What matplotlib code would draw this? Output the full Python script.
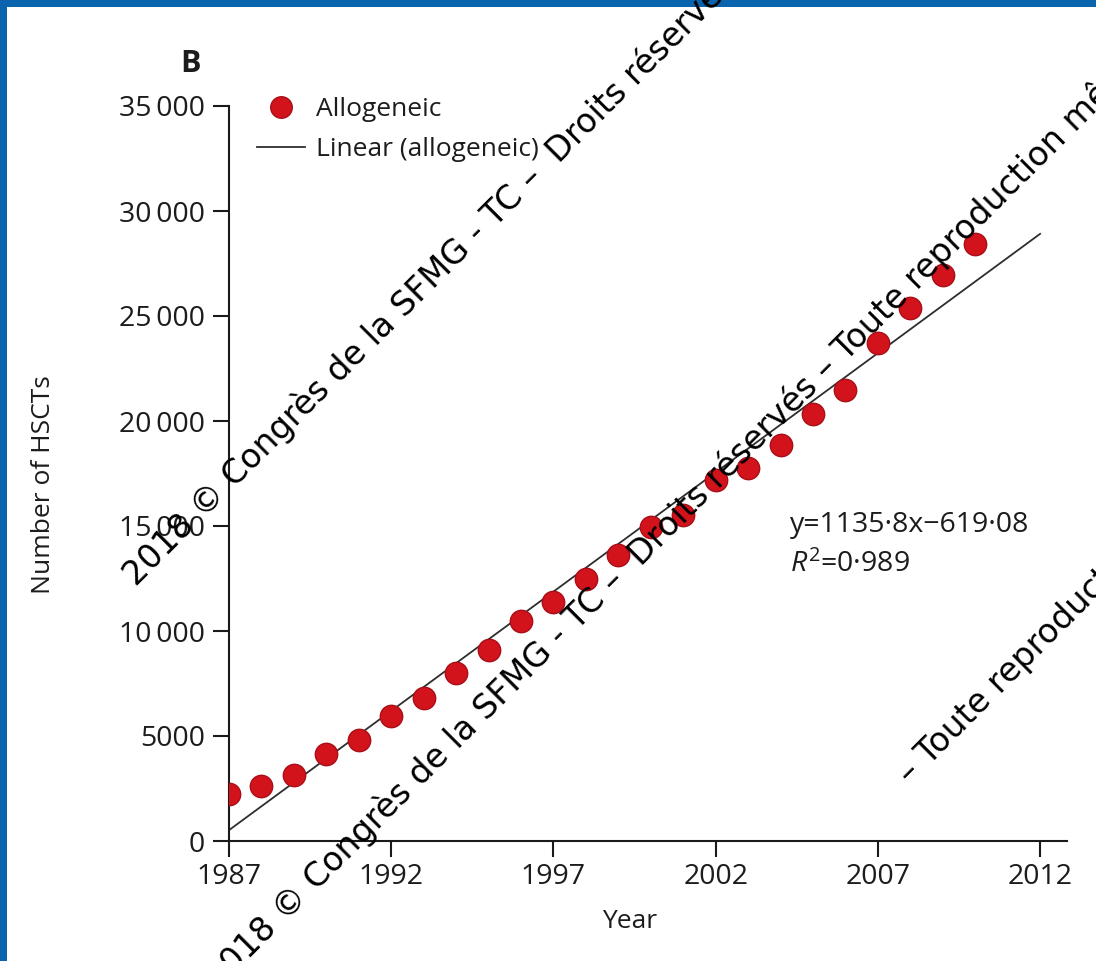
import matplotlib
matplotlib.use("Agg")
import matplotlib.pyplot as plt
from matplotlib.patches import Rectangle
from matplotlib.lines import Line2D

# Datos (trasplantes alogenicos por año)
years = [1987, 1988, 1989, 1990, 1991, 1992, 1993, 1994, 1995, 1996, 1997, 1998,
         1999, 2000, 2001, 2002, 2003, 2004, 2005, 2006, 2007, 2008, 2009, 2010]
allogeneic = [2240, 2600, 3160, 4160, 4830, 5950, 6830, 8020, 9110, 10490, 11370, 12490,
              13600, 14960, 15520, 17190, 17750, 18840, 20340, 21500, 23700, 25360, 26950, 28440]

# Recta de ajuste (x = 1 para 1987)
slope = 1135.8
intercept = -619.08
fit_years = [1987, 2012]

x_ticks = [1987, 1992, 1997, 2002, 2007, 2012]
y_ticks = [0, 5000, 10000, 15000, 20000, 25000, 30000, 35000]
y_labels = ["0", "5000", "10\u2009000", "15\u2009000", "20\u2009000", "25\u2009000", "30\u2009000", "35\u2009000"]

watermark = "2018 © Congrès de la SFMG - TC –  Droits réservés – Toute reproduction même partielle interdite"
watermark_tail = "– Toute reproduction même partielle interdite"

plt.rcParams['font.family'] = ['Open Sans', 'DejaVu Sans']
plt.rcParams['mathtext.fontset'] = 'custom'
plt.rcParams['mathtext.rm'] = 'Open Sans'
plt.rcParams['mathtext.it'] = 'Open Sans:italic'

W, H = 1096, 961
fig = plt.figure(figsize=(W / 100, H / 100), dpi=100, facecolor="#0a64ad")
fig.add_artist(Rectangle((7 / W, 0), 1 - 7 / W, (H - 7) / H, transform=fig.transFigure,
                         facecolor="white", edgecolor="none", zorder=-10))

ax = fig.add_axes([229 / W, 120 / H, 837.7 / W, 735 / H])
ax.patch.set_visible(False)

txt = "#1c1c1c"
ax.scatter(years, allogeneic, s=260, color="#d3131c", edgecolor="#a80f18", linewidth=1, zorder=3)
fit_vals = [slope * (y - 1986) + intercept for y in fit_years]
ax.plot(fit_years, fit_vals, color="#2e2e2e", linewidth=1.3, zorder=2)

ax.set_xlim(1987, 2012.82)
ax.set_ylim(0, 35000)
ax.set_xticks(x_ticks)
ax.set_yticks(y_ticks)
ax.set_yticklabels(y_labels)
for s in ["top", "right"]:
    ax.spines[s].set_visible(False)
for s in ["left", "bottom"]:
    ax.spines[s].set_linewidth(1.5)
    ax.spines[s].set_color("#1a1a1a")
ax.tick_params(axis="both", length=11.5, width=1.5, color="#1a1a1a", labelsize=20.5, labelcolor=txt)
ax.tick_params(axis="y", pad=6)
ax.tick_params(axis="x", pad=4.5)

ax.set_xlabel("Year", fontsize=19, color=txt, va="center")
ax.xaxis.set_label_coords(0.4787, -0.1102)
ax.set_ylabel("Number of HSCTs", fontsize=19, color=txt, va="center")
ax.yaxis.set_label_coords((44 - 229) / 837.7, (841 - 485) / 735)

handles = [Line2D([], [], marker="o", linestyle="none", markersize=15.5,
                  markerfacecolor="#d3131c", markeredgecolor="#a80f18"),
           Line2D([], [], color="#2e2e2e", linewidth=1.3)]
leg = ax.legend(handles, ["Allogeneic", "Linear (allogeneic)"], loc="upper left",
                bbox_to_anchor=(257 / W, 1 - 97 / H), bbox_transform=fig.transFigure,
                frameon=False, fontsize=19, handlelength=1.8, handletextpad=0.42,
                labelspacing=0.58, borderpad=0, borderaxespad=0)
for t in leg.get_texts():
    t.set_color(txt)

eq_x = 1987 + (790 - 229) / 32.44
ax.text(eq_x, 15030, "y=1135·8x−619·08", fontsize=20.5, color=txt, va="center")
ax.text(eq_x, 13160, r"$\mathit{R}^{2}$=0·989", fontsize=20.5, color=txt, va="center")

fig.text(180 / W, 1 - 72 / H, "B", fontsize=22, fontweight="bold", color=txt)

# Filigrana
wm = dict(fontsize=24, rotation=45, rotation_mode="anchor", ha="left", va="baseline",
          color="black", family="DejaVu Sans")
fig.text(136 / W, 1 - 587 / H, watermark, **wm)
fig.text(218 / W, 1 - 990 / H, watermark, **wm)
fig.text(910 / W, 1 - 785 / H, watermark_tail, **wm)

fig.savefig("out.png", dpi=100)
